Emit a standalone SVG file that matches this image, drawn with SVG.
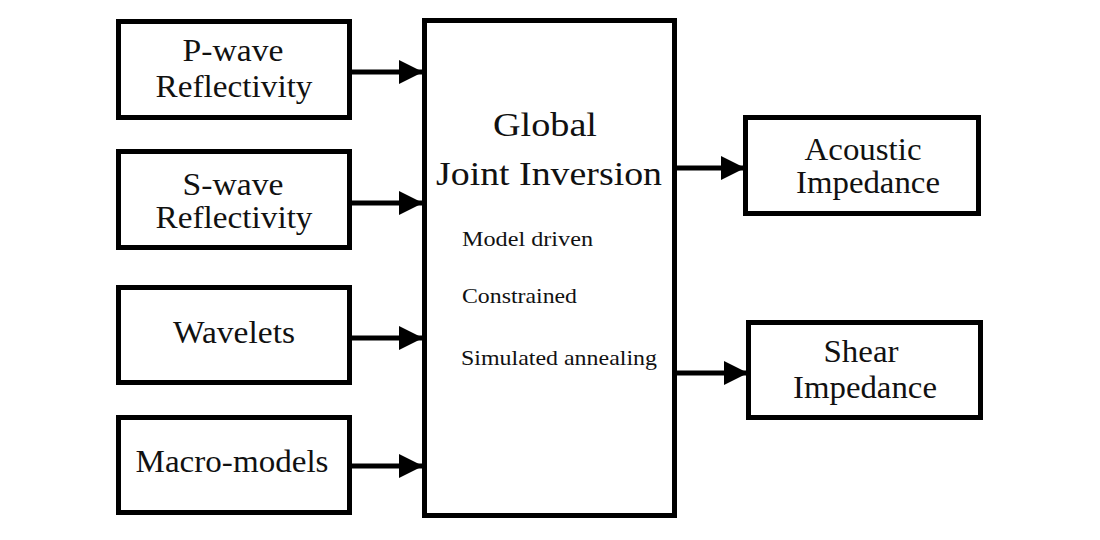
<svg xmlns="http://www.w3.org/2000/svg" width="1100" height="540" viewBox="0 0 1100 540">
<style>
.box{fill:#fff;stroke:#000;stroke-width:5}
.t{font-family:"Liberation Serif","Times New Roman",serif;fill:#111;text-anchor:middle}
.big{font-size:31px}
.title{font-size:33px}
.small{font-size:21px;text-anchor:start}
.conn{stroke:#000;stroke-width:5;fill:none;marker-end:url(#ah)}
</style>
<defs>
<marker id="ah" markerUnits="userSpaceOnUse" markerWidth="24" markerHeight="24" viewBox="0 0 24 24" refX="24" refY="12" orient="auto">
<path d="M0,0 L24,12 L0,24 Z" fill="#000"/>
</marker>
</defs>
<rect width="1100" height="540" fill="#fff"/>
<g id="connectors">
<line class="conn" x1="350" y1="72" x2="423" y2="72"/>
<line class="conn" x1="350" y1="203" x2="423" y2="203"/>
<line class="conn" x1="350" y1="338" x2="423" y2="338"/>
<line class="conn" x1="350" y1="466" x2="423" y2="466"/>
<line class="conn" x1="676" y1="168" x2="745" y2="168"/>
<line class="conn" x1="676" y1="373" x2="748" y2="373"/>
</g>
<g id="pwave">
<rect class="box" x="118.5" y="21.5" width="231" height="96"/>
<text class="t big" x="233" y="61" textLength="101" lengthAdjust="spacingAndGlyphs">P-wave</text>
<text class="t big" x="234" y="97" textLength="157" lengthAdjust="spacingAndGlyphs">Reflectivity</text>
</g>
<g id="swave">
<rect class="box" x="118.5" y="151.5" width="231" height="96"/>
<text class="t big" x="233" y="195" textLength="101" lengthAdjust="spacingAndGlyphs">S-wave</text>
<text class="t big" x="234" y="228" textLength="157" lengthAdjust="spacingAndGlyphs">Reflectivity</text>
</g>
<g id="wavelets">
<rect class="box" x="118.5" y="287.5" width="231" height="95"/>
<text class="t big" x="234" y="343" textLength="122" lengthAdjust="spacingAndGlyphs">Wavelets</text>
</g>
<g id="macro">
<rect class="box" x="118.5" y="417.5" width="231" height="95"/>
<text class="t big" x="232" y="472" textLength="193" lengthAdjust="spacingAndGlyphs">Macro-models</text>
</g>
<g id="inversion">
<rect class="box" x="424.5" y="20.5" width="250" height="495"/>
<text class="t title" x="545" y="136" textLength="104" lengthAdjust="spacingAndGlyphs">Global</text>
<text class="t title" x="549" y="185" textLength="226" lengthAdjust="spacingAndGlyphs">Joint Inversion</text>
<text class="t small" x="462" y="246" textLength="131" lengthAdjust="spacingAndGlyphs">Model driven</text>
<text class="t small" x="462" y="303" textLength="115" lengthAdjust="spacingAndGlyphs">Constrained</text>
<text class="t small" x="461" y="365" textLength="196" lengthAdjust="spacingAndGlyphs">Simulated annealing</text>
</g>
<g id="acoustic">
<rect class="box" x="745.5" y="117.5" width="233" height="96"/>
<text class="t big" x="863" y="160" textLength="117" lengthAdjust="spacingAndGlyphs">Acoustic</text>
<text class="t big" x="868" y="193" textLength="144" lengthAdjust="spacingAndGlyphs">Impedance</text>
</g>
<g id="shear">
<rect class="box" x="748.5" y="322.5" width="232" height="95"/>
<text class="t big" x="861" y="362" textLength="75" lengthAdjust="spacingAndGlyphs">Shear</text>
<text class="t big" x="865" y="398" textLength="144" lengthAdjust="spacingAndGlyphs">Impedance</text>
</g>
</svg>
